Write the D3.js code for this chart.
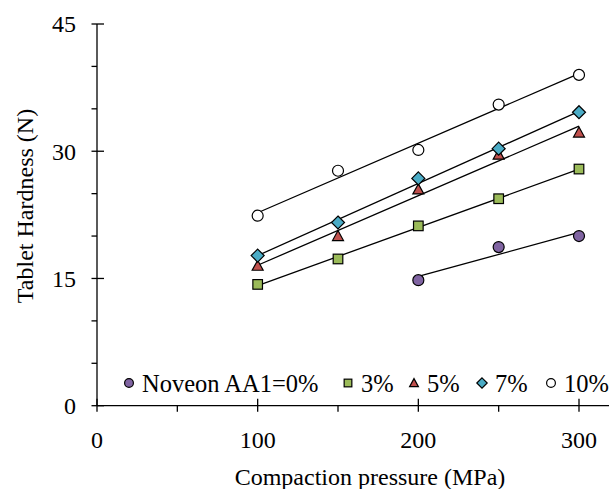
<!DOCTYPE html>
<html><head><meta charset="utf-8">
<script src="https://cdn.jsdelivr.net/npm/d3@7"></script>
<style>body{margin:0;background:#fff}svg{display:block}text{font-family:"Liberation Serif","Times New Roman",serif;fill:#000}</style>
</head><body><div id="chart"></div>
<script>
const pressures = [100, 150, 200, 250, 300];
const seriesNames = ["Noveon AA1=0%", "3%", "5%", "7%", "10%"];
const hard0  = [null, null, 14.8, 18.7, 20.0];
const hard3  = [14.3, 17.3, 21.2, 24.4, 27.9];
const hard5  = [16.5, 20.0, 25.5, 29.6, 32.2];
const hard7  = [17.7, 21.6, 26.8, 30.3, 34.6];
const hard10 = [22.4, 27.7, 30.15, 35.5, 39.0];
const yTicks = [0, 15, 30, 45];
const xTicks = [0, 100, 200, 300];
const colors = ["#8064A2", "#9BBB59", "#C0504D", "#4BACC6", "#FFFFFF"];
const shapes = ["circle", "square", "triangle", "diamond", "circle"];
const allSeries = [hard0, hard3, hard5, hard7, hard10];

const W = 609, H = 489;
const FS = 24;
const svg = d3.select("#chart").append("svg").attr("width", W).attr("height", H);
const x = d3.scaleLinear().domain([0, 300]).range([97, 579]);
const y = d3.scaleLinear().domain([0, 45]).range([405.7, 24]);

// axes
const g = svg.append("g").attr("stroke", "#000").attr("stroke-width", 1.3);
g.append("line").attr("x1", 97).attr("x2", 609).attr("y1", y(0)).attr("y2", y(0));
g.append("line").attr("x1", 97).attr("x2", 97).attr("y1", y(0)).attr("y2", y(45));
d3.range(0, 46, 5).forEach(v => {
  const major = v % 15 === 0;
  g.append("line").attr("x1", 91.5).attr("x2", major ? 104 : 97)
    .attr("y1", y(v)).attr("y2", y(v));
});
d3.range(0, 301, 50).forEach(v => {
  const major = v % 100 === 0;
  g.append("line").attr("x1", x(v)).attr("x2", x(v))
    .attr("y1", major ? y(0) - 7 : y(0)).attr("y2", y(0) + 6);
});
svg.selectAll(".yt").data(yTicks).enter().append("text")
  .attr("x", 76).attr("y", d => y(d)).attr("dy", "0.35em").attr("text-anchor", "end")
  .attr("font-size", FS).text(d => d);
svg.selectAll(".xt").data(xTicks).enter().append("text")
  .attr("x", d => x(d)).attr("y", 440).attr("dy", "0.35em").attr("text-anchor", "middle")
  .attr("font-size", FS).text(d => d);
svg.append("text").attr("x", 370).attr("y", 485).attr("text-anchor", "middle")
  .attr("font-size", FS).text("Compaction  pressure  (MPa)");
svg.append("text").attr("transform", "translate(33,206) rotate(-90)").attr("text-anchor", "middle")
  .attr("font-size", FS).text("Tablet  Hardness  (N)");

// fit lines (least squares of the plotted points)
function fit(vals) {
  const pts = pressures.map((p, i) => [p, vals[i]]).filter(d => d[1] != null);
  const mx = d3.mean(pts, d => d[0]), my = d3.mean(pts, d => d[1]);
  const b = d3.sum(pts, d => (d[0] - mx) * (d[1] - my)) / d3.sum(pts, d => (d[0] - mx) ** 2);
  const x0 = d3.min(pts, d => d[0]), x1 = d3.max(pts, d => d[0]);
  return [[x0, my + b * (x0 - mx)], [x1, my + b * (x1 - mx)]];
}
allSeries.forEach(s => {
  const f = fit(s);
  svg.append("line").attr("x1", x(f[0][0])).attr("y1", y(f[0][1]))
    .attr("x2", x(f[1][0])).attr("y2", y(f[1][1])).attr("stroke", "#000").attr("stroke-width", 1.3);
});

function marker(sel, shape, color, s) {
  let p;
  if (shape === "circle") p = sel.append("circle").attr("r", s * 0.55);
  else if (shape === "square") p = sel.append("rect").attr("x", -s * 0.48).attr("y", -s * 0.48).attr("width", s * 0.96).attr("height", s * 0.96);
  else if (shape === "triangle") p = sel.append("path").attr("d", `M0,${-s*0.55}L${s*0.55},${s*0.45}L${-s*0.55},${s*0.45}Z`);
  else p = sel.append("path").attr("d", `M0,${-s*0.65}L${s*0.65},0L0,${s*0.65}L${-s*0.65},0Z`);
  p.attr("fill", color).attr("stroke", "#000").attr("stroke-width", 1.2);
}
allSeries.forEach((s, k) => {
  pressures.forEach((p, i) => {
    if (s[i] == null) return;
    const gg = svg.append("g").attr("transform", `translate(${x(p)},${y(s[i])})`);
    marker(gg, shapes[k], colors[k], 10);
  });
});

// legend
const legX = [129, 348, 414, 482, 551];
seriesNames.forEach((n, k) => {
  const gg = svg.append("g").attr("transform", `translate(${legX[k]},383)`);
  marker(gg, shapes[k], colors[k], 8);
  svg.append("text").attr("x", legX[k] + 13).attr("y", 383).attr("dy", "0.35em")
    .attr("font-size", 24.5).text(n);
});
</script></body></html>
